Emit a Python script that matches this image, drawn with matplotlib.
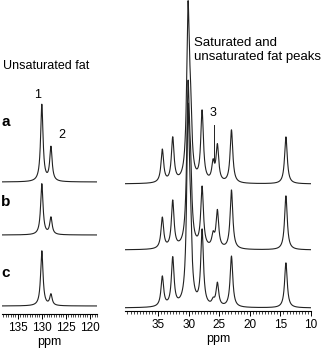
import numpy as np
import matplotlib
matplotlib.use("Agg")
import matplotlib.pyplot as plt
import matplotlib.ticker as ticker

plt.rcParams['font.family'] = ['Liberation Sans', 'DejaVu Sans']

# Unsaturated fat region (ppm, relative intensity per spectrum a, b, c)
olefin_ppm = [130.0, 128.1]
olefin_a = [77, 34]
olefin_b = [51, 17]
olefin_c = [55, 11]
olefin_offsets = [132, 79, 8]
olefin_ticks = [135, 130, 125, 120]

# Saturated / unsaturated fat peaks region
aliph_ppm = [34.3, 32.6, 30.1, 29.7, 27.8, 26.0, 25.3, 23.0, 14.1]
aliph_a = [33, 44, 165, 55, 70, 18, 36, 53, 47]
aliph_b = [31, 47, 150, 60, 60, 12, 37, 59, 54]
aliph_c = [30, 48, 185, 60, 75, 5, 23, 51, 45]
aliph_offsets = [127, 61, 3]
aliph_ticks = [35, 30, 25, 20, 15, 10]

W, H = 327, 348


def spectrum(x, centers, heights, hwhm):
    y = np.zeros_like(x)
    for c, h in zip(centers, heights):
        y += h / (1 + ((x - c) / hwhm) ** 2)
    return y


def style_axis(ax, lo, hi, ytop, major):
    ax.set_xlim(lo, hi)
    ax.set_ylim(0, ytop)
    for s in ["top", "left", "right"]:
        ax.spines[s].set_visible(False)
    ax.spines["bottom"].set_linewidth(0.8)
    ax.set_yticks([])
    ax.xaxis.set_major_locator(ticker.FixedLocator(major))
    ax.xaxis.set_minor_locator(ticker.MultipleLocator(0.5))
    ax.tick_params(axis="x", which="major", length=3.5, width=0.7, labelsize=8.5, pad=2.5)
    ax.tick_params(axis="x", which="minor", length=2, width=0.5)
    ax.patch.set_alpha(0)


fig = plt.figure(figsize=(W / 100, H / 100), dpi=100)

# left panel
axl = fig.add_axes([2 / W, (H - 314) / H, 95 / W, 314 / H])
style_axis(axl, 138.3, 118.5, 314, olefin_ticks)
xl = np.linspace(138.3, 118.5, 1500)
for heights, off in zip([olefin_a, olefin_b, olefin_c], olefin_offsets):
    axl.plot(xl, spectrum(xl, olefin_ppm, heights, 0.3) + off, color="#222222", lw=0.8)
axl.set_xlabel("ppm", fontsize=9, labelpad=1.5)

# right panel
axr = fig.add_axes([125 / W, (H - 311) / H, 186 / W, 311 / H])
style_axis(axr, 40.4, 10, 311, aliph_ticks)
xr = np.linspace(40.4, 10, 3000)
for heights, off in zip([aliph_a, aliph_b, aliph_c], aliph_offsets):
    axr.plot(xr, spectrum(xr, aliph_ppm, heights, 0.26) + off, color="#222222", lw=0.8)
axr.set_xlabel("ppm", fontsize=9, labelpad=1.5)
axr.plot([25.8, 25.8], [150, 186], color="#222222", lw=0.7)
axr.text(26.0, 198, "3", fontsize=9, ha="center", va="center")

# text annotations
fig.text(3 / W, 1 - 66 / H, "Unsaturated fat", fontsize=9, va="center")
fig.text(194 / W, 1 - 50 / H, "Saturated and\nunsaturated fat peaks", fontsize=9.5,
         va="center", linespacing=1.25)
for lab, yp in zip(["a", "b", "c"], [122, 202, 273]):
    fig.text(1 / W, 1 - yp / H, lab, fontsize=11, fontweight="bold", va="center")
fig.text(38 / W, 1 - 95 / H, "1", fontsize=9, ha="center", va="center")
fig.text(62 / W, 1 - 135 / H, "2", fontsize=9, ha="center", va="center")

fig.savefig("out.png", dpi=100)
